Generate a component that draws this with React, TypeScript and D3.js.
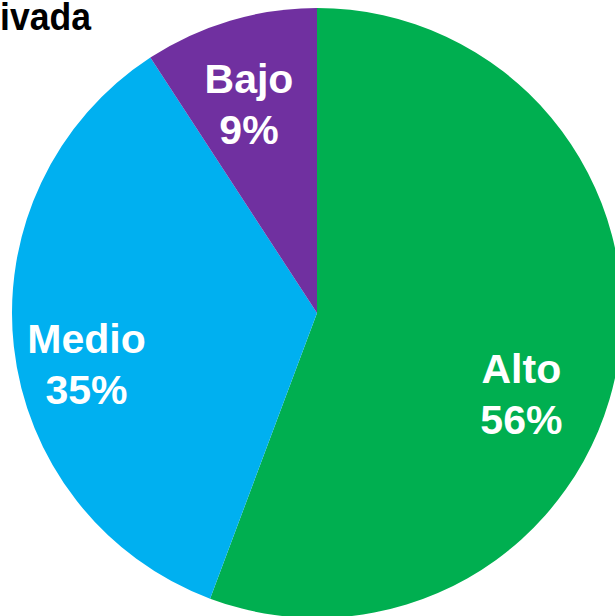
import React, { useEffect, useRef } from 'react';
import * as d3 from 'd3';

// slice data, clockwise from 12 o'clock
const categories = ['Alto', 'Medio', 'Bajo'];
const shares = [55.7, 35.1, 9.2];
const sliceColors = ['#00AF50', '#00B0F0', '#7030A0'];
const titleText = 'ivada';

// label placement (degrees clockwise from top, radius in px from centre)
const labelPlacement = [
  { angle: 108.9, radius: 216 },
  { angle: 260.1, radius: 234 },
  { angle: 342.8, radius: 230 },
];

export default function App() {
  const svgRef = useRef<SVGSVGElement>(null);

  useEffect(() => {
    const width = 615;
    const height = 616;
    const cx = 317;
    const cy = 313;
    const radius = 305;

    const svg = d3.select(svgRef.current);
    svg.selectAll('*').remove();
    svg.attr('width', width).attr('height', height);

    // title (only its tail is visible in the original)
    svg.append('text')
      .attr('x', 0)
      .attr('y', 30)
      .attr('font-family', '"Liberation Sans", Arial, sans-serif')
      .attr('font-weight', 'bold')
      .attr('font-size', 39)
      .attr('textLength', 91)
      .attr('lengthAdjust', 'spacingAndGlyphs')
      .attr('fill', '#000')
      .text(titleText);

    const data = categories.map((c, i) => ({ name: c, value: shares[i], color: sliceColors[i] }));

    const pie = d3.pie<any>()
      .sort(null)
      .value(d => d.value)
      .startAngle(0)
      .endAngle(2 * Math.PI);

    const arc = d3.arc<any>()
      .innerRadius(0)
      .outerRadius(radius);

    const g = svg.append('g')
      .attr('transform', `translate(${cx},${cy})`);

    const arcs = pie(data);

    g.selectAll('.slice')
      .data(arcs)
      .enter()
      .append('path')
      .attr('class', 'slice')
      .attr('d', arc)
      .attr('fill', d => d.data.color);

    // labels
    const labels = g.selectAll('.label')
      .data(arcs)
      .enter()
      .append('text')
      .attr('class', 'label')
      .attr('transform', (d, i) => {
        const p = labelPlacement[i];
        const [x, y] = d3.pointRadial((p.angle * Math.PI) / 180, p.radius);
        return `translate(${x},${y})`;
      })
      .attr('text-anchor', 'middle')
      .attr('font-family', '"Liberation Sans", Arial, sans-serif')
      .attr('font-weight', 'bold')
      .attr('font-size', 41)
      .attr('fill', '#ffffff');

    labels.append('tspan')
      .attr('x', 0)
      .attr('y', 0)
      .text(d => d.data.name);

    labels.append('tspan')
      .attr('x', 0)
      .attr('y', 51)
      .text(d => `${Math.round(d.data.value)}%`);
  }, []);

  return (
    <div style={{ position: 'absolute', left: 0, top: 0, width: 615, height: 616, background: '#ffffff', overflow: 'hidden' }}>
      <svg ref={svgRef} style={{ display: 'block' }}></svg>
    </div>
  );
}
